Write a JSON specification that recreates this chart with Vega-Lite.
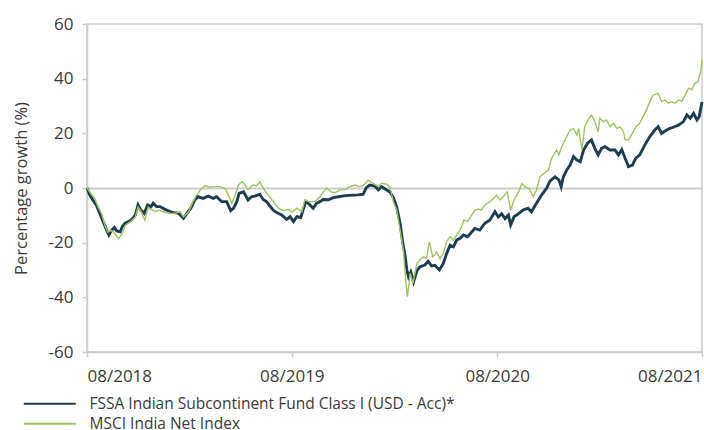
{
  "$schema": "https://vega.github.io/schema/vega-lite/v6.json",
  "width": 615,
  "height": 328,
  "autosize": {"type": "none"},
  "padding": {"left": 87, "top": 24, "right": 2, "bottom": 78},
  "background": "white",
  "config": {
    "font": "Open Sans",
    "view": {"stroke": "#cccccc", "strokeWidth": 1.5},
    "axis": {
      "labelFont": "Open Sans", "labelColor": "#3a3a3a", "labelFontSize": 17,
      "titleFont": "Open Sans", "titleColor": "#3a3a3a", "titleFontWeight": "normal", "titleFontSize": 16.5,
      "domainColor": "#cccccc", "domainWidth": 1.5, "tickColor": "#cccccc", "tickWidth": 1.5, "tickSize": 5
    },
    "legend": {
      "labelFont": "Open Sans", "labelColor": "#3a3a3a", "labelFontSize": 15.5
    }
  },
  "datasets": {
    "fund": [
      {"date": "2018-08-31", "value": 0}, {"date": "2018-09-05", "value": -2.6}, {"date": "2018-09-11", "value": -4.6},
      {"date": "2018-09-17", "value": -6.4}, {"date": "2018-09-23", "value": -9.4}, {"date": "2018-09-29", "value": -12.4},
      {"date": "2018-10-05", "value": -15.4}, {"date": "2018-10-09", "value": -17.2}, {"date": "2018-10-14", "value": -15.4},
      {"date": "2018-10-19", "value": -14.4}, {"date": "2018-10-23", "value": -15.7}, {"date": "2018-10-29", "value": -16},
      {"date": "2018-11-02", "value": -14.1}, {"date": "2018-11-07", "value": -12.9}, {"date": "2018-11-13", "value": -12.3},
      {"date": "2018-11-19", "value": -11.5}, {"date": "2018-11-25", "value": -9.9}, {"date": "2018-11-30", "value": -6.2},
      {"date": "2018-12-05", "value": -8.1}, {"date": "2018-12-11", "value": -9.3}, {"date": "2018-12-17", "value": -6.2},
      {"date": "2018-12-23", "value": -6.8}, {"date": "2018-12-27", "value": -5.6}, {"date": "2019-01-02", "value": -6.8},
      {"date": "2019-01-08", "value": -6.8}, {"date": "2019-01-17", "value": -7.8}, {"date": "2019-01-26", "value": -8.6},
      {"date": "2019-02-01", "value": -9.0}, {"date": "2019-02-10", "value": -9.2}, {"date": "2019-02-19", "value": -11.1},
      {"date": "2019-02-25", "value": -9.3}, {"date": "2019-03-04", "value": -7.4}, {"date": "2019-03-11", "value": -4.4},
      {"date": "2019-03-17", "value": -3.2}, {"date": "2019-03-26", "value": -3.8}, {"date": "2019-04-04", "value": -3.0},
      {"date": "2019-04-13", "value": -3.8}, {"date": "2019-04-19", "value": -3.2}, {"date": "2019-04-28", "value": -5.0},
      {"date": "2019-05-07", "value": -5.0}, {"date": "2019-05-14", "value": -8.3}, {"date": "2019-05-19", "value": -7.4},
      {"date": "2019-05-25", "value": -5.0}, {"date": "2019-05-29", "value": -2.0}, {"date": "2019-06-06", "value": -1.4},
      {"date": "2019-06-14", "value": -4.4}, {"date": "2019-06-20", "value": -3.2}, {"date": "2019-06-26", "value": -3.0},
      {"date": "2019-07-05", "value": -2.3}, {"date": "2019-07-11", "value": -4.2}, {"date": "2019-07-17", "value": -5.0},
      {"date": "2019-07-23", "value": -6.6}, {"date": "2019-07-29", "value": -8.1}, {"date": "2019-08-04", "value": -9.0},
      {"date": "2019-08-13", "value": -9.9}, {"date": "2019-08-22", "value": -11.5}, {"date": "2019-08-28", "value": -10.5},
      {"date": "2019-09-03", "value": -12.3}, {"date": "2019-09-09", "value": -10.5}, {"date": "2019-09-16", "value": -10.8},
      {"date": "2019-09-20", "value": -8.1}, {"date": "2019-09-25", "value": -5.0}, {"date": "2019-10-01", "value": -5.9},
      {"date": "2019-10-08", "value": -7.4}, {"date": "2019-10-14", "value": -5.6}, {"date": "2019-10-20", "value": -5.0},
      {"date": "2019-10-26", "value": -4.2}, {"date": "2019-11-04", "value": -4.3}, {"date": "2019-11-13", "value": -3.5},
      {"date": "2019-11-22", "value": -3.2}, {"date": "2019-12-01", "value": -2.9}, {"date": "2019-12-10", "value": -2.7},
      {"date": "2019-12-19", "value": -2.6}, {"date": "2019-12-27", "value": -2.5}, {"date": "2020-01-05", "value": -2.3},
      {"date": "2020-01-11", "value": 0.2}, {"date": "2020-01-17", "value": 1.1}, {"date": "2020-01-26", "value": 0.7},
      {"date": "2020-02-01", "value": -0.7}, {"date": "2020-02-07", "value": 0.5}, {"date": "2020-02-16", "value": -0.7},
      {"date": "2020-02-22", "value": -1.5}, {"date": "2020-02-28", "value": -3.5}, {"date": "2020-03-05", "value": -7.0},
      {"date": "2020-03-11", "value": -13.0}, {"date": "2020-03-15", "value": -19}, {"date": "2020-03-20", "value": -25},
      {"date": "2020-03-23", "value": -30}, {"date": "2020-03-26", "value": -32.5}, {"date": "2020-03-30", "value": -30.7},
      {"date": "2020-04-04", "value": -34.3}, {"date": "2020-04-10", "value": -30.2}, {"date": "2020-04-15", "value": -28.9},
      {"date": "2020-04-24", "value": -28.2}, {"date": "2020-04-30", "value": -26.8}, {"date": "2020-05-06", "value": -28.5},
      {"date": "2020-05-12", "value": -28.3}, {"date": "2020-05-20", "value": -30}, {"date": "2020-05-27", "value": -27.6},
      {"date": "2020-06-02", "value": -23.9}, {"date": "2020-06-08", "value": -20.9}, {"date": "2020-06-14", "value": -21.5},
      {"date": "2020-06-20", "value": -19}, {"date": "2020-06-26", "value": -18.4}, {"date": "2020-07-02", "value": -17.2},
      {"date": "2020-07-09", "value": -17.8}, {"date": "2020-07-17", "value": -16}, {"date": "2020-07-22", "value": -14.8},
      {"date": "2020-07-31", "value": -15.4}, {"date": "2020-08-09", "value": -12.9}, {"date": "2020-08-18", "value": -11.7},
      {"date": "2020-08-27", "value": -8.7}, {"date": "2020-09-02", "value": -10.6}, {"date": "2020-09-08", "value": -9.4},
      {"date": "2020-09-14", "value": -11.2}, {"date": "2020-09-20", "value": -9.9}, {"date": "2020-09-24", "value": -13.5},
      {"date": "2020-09-30", "value": -10.5}, {"date": "2020-10-08", "value": -9.4}, {"date": "2020-10-16", "value": -8.1},
      {"date": "2020-10-25", "value": -7.4}, {"date": "2020-10-31", "value": -8.7}, {"date": "2020-11-09", "value": -5.6},
      {"date": "2020-11-18", "value": -2.6}, {"date": "2020-11-27", "value": -0.1}, {"date": "2020-12-03", "value": 2.5},
      {"date": "2020-12-12", "value": 4.1}, {"date": "2020-12-19", "value": 3.0}, {"date": "2020-12-23", "value": 0.5},
      {"date": "2020-12-27", "value": 4.1}, {"date": "2021-01-02", "value": 6.6}, {"date": "2021-01-08", "value": 8.4},
      {"date": "2021-01-14", "value": 11.5}, {"date": "2021-01-20", "value": 10.2}, {"date": "2021-01-26", "value": 9.6},
      {"date": "2021-02-01", "value": 13.9}, {"date": "2021-02-08", "value": 16.4}, {"date": "2021-02-15", "value": 17.6},
      {"date": "2021-02-21", "value": 14.5}, {"date": "2021-02-27", "value": 12.1}, {"date": "2021-03-05", "value": 14.5},
      {"date": "2021-03-11", "value": 15.1}, {"date": "2021-03-20", "value": 13.9}, {"date": "2021-03-29", "value": 13.9},
      {"date": "2021-04-04", "value": 12.1}, {"date": "2021-04-10", "value": 14.0}, {"date": "2021-04-16", "value": 10.9},
      {"date": "2021-04-22", "value": 7.8}, {"date": "2021-04-29", "value": 8.4}, {"date": "2021-05-05", "value": 10.9},
      {"date": "2021-05-12", "value": 12.1}, {"date": "2021-05-21", "value": 15.7}, {"date": "2021-05-30", "value": 18.8},
      {"date": "2021-06-08", "value": 21.2}, {"date": "2021-06-14", "value": 22.4}, {"date": "2021-06-20", "value": 20},
      {"date": "2021-06-29", "value": 21.2}, {"date": "2021-07-05", "value": 21.8}, {"date": "2021-07-13", "value": 22.4},
      {"date": "2021-07-20", "value": 23}, {"date": "2021-07-29", "value": 24.3}, {"date": "2021-08-04", "value": 26.7},
      {"date": "2021-08-10", "value": 25.5}, {"date": "2021-08-16", "value": 27.3}, {"date": "2021-08-22", "value": 24.9},
      {"date": "2021-08-26", "value": 26.1}, {"date": "2021-08-31", "value": 31.5}
    ],
    "msci": [
      {"date": "2018-08-31", "value": 0}, {"date": "2018-09-08", "value": -2.4}, {"date": "2018-09-14", "value": -3.9},
      {"date": "2018-09-20", "value": -7}, {"date": "2018-09-26", "value": -9.4}, {"date": "2018-10-02", "value": -13.7},
      {"date": "2018-10-07", "value": -16.2}, {"date": "2018-10-13", "value": -15.5}, {"date": "2018-10-19", "value": -16.5},
      {"date": "2018-10-26", "value": -18.6}, {"date": "2018-11-01", "value": -16.8}, {"date": "2018-11-07", "value": -13.7},
      {"date": "2018-11-16", "value": -12.4}, {"date": "2018-11-25", "value": -10.6}, {"date": "2018-11-30", "value": -7},
      {"date": "2018-12-06", "value": -8.7}, {"date": "2018-12-12", "value": -11.8}, {"date": "2018-12-18", "value": -7},
      {"date": "2018-12-24", "value": -7.9}, {"date": "2018-12-30", "value": -8.7}, {"date": "2019-01-05", "value": -8.1},
      {"date": "2019-01-14", "value": -8.7}, {"date": "2019-01-23", "value": -9.3}, {"date": "2019-02-04", "value": -9.3},
      {"date": "2019-02-13", "value": -8.7}, {"date": "2019-02-19", "value": -10.6}, {"date": "2019-02-28", "value": -8.7},
      {"date": "2019-03-08", "value": -5}, {"date": "2019-03-14", "value": -2.6}, {"date": "2019-03-20", "value": -1},
      {"date": "2019-03-29", "value": 0.9}, {"date": "2019-04-07", "value": 0.3}, {"date": "2019-04-16", "value": 0.5},
      {"date": "2019-04-25", "value": 0.5}, {"date": "2019-05-04", "value": -0.1}, {"date": "2019-05-10", "value": -2.6},
      {"date": "2019-05-16", "value": -5.6}, {"date": "2019-05-22", "value": -2.6}, {"date": "2019-05-28", "value": 1.1},
      {"date": "2019-06-03", "value": 2.3}, {"date": "2019-06-09", "value": 1.1}, {"date": "2019-06-14", "value": -0.5},
      {"date": "2019-06-23", "value": 1.1}, {"date": "2019-06-29", "value": 0.8}, {"date": "2019-07-05", "value": 2.3},
      {"date": "2019-07-11", "value": -0.1}, {"date": "2019-07-20", "value": -2.6}, {"date": "2019-07-29", "value": -5},
      {"date": "2019-08-07", "value": -7.4}, {"date": "2019-08-16", "value": -8.3}, {"date": "2019-08-25", "value": -7.8},
      {"date": "2019-09-01", "value": -8.7}, {"date": "2019-09-09", "value": -7.4}, {"date": "2019-09-18", "value": -8.7},
      {"date": "2019-09-23", "value": -4.4}, {"date": "2019-10-01", "value": -5}, {"date": "2019-10-11", "value": -5},
      {"date": "2019-10-20", "value": -3.2}, {"date": "2019-10-26", "value": -1.4}, {"date": "2019-11-01", "value": -0.1},
      {"date": "2019-11-09", "value": -1.4}, {"date": "2019-11-16", "value": -1.7}, {"date": "2019-11-25", "value": -0.7},
      {"date": "2019-12-04", "value": -0.5}, {"date": "2019-12-13", "value": 0.5}, {"date": "2019-12-22", "value": 1.1},
      {"date": "2019-12-30", "value": 0.5}, {"date": "2020-01-05", "value": 0.8}, {"date": "2020-01-14", "value": 2.9},
      {"date": "2020-01-23", "value": 1.7}, {"date": "2020-02-01", "value": 0.5}, {"date": "2020-02-07", "value": 1.7},
      {"date": "2020-02-16", "value": 1.4}, {"date": "2020-02-22", "value": 0.2}, {"date": "2020-02-28", "value": -5},
      {"date": "2020-03-05", "value": -8.1}, {"date": "2020-03-11", "value": -15.4}, {"date": "2020-03-17", "value": -23},
      {"date": "2020-03-21", "value": -33.7}, {"date": "2020-03-24", "value": -39.8}, {"date": "2020-03-29", "value": -31.2},
      {"date": "2020-04-03", "value": -34.9}, {"date": "2020-04-10", "value": -27.6}, {"date": "2020-04-15", "value": -26.4},
      {"date": "2020-04-21", "value": -25.2}, {"date": "2020-04-27", "value": -25.8}, {"date": "2020-05-02", "value": -19.6},
      {"date": "2020-05-08", "value": -25.2}, {"date": "2020-05-15", "value": -23.4}, {"date": "2020-05-21", "value": -25.8},
      {"date": "2020-05-27", "value": -24}, {"date": "2020-06-02", "value": -19.6}, {"date": "2020-06-08", "value": -17.8},
      {"date": "2020-06-14", "value": -19}, {"date": "2020-06-20", "value": -17.2}, {"date": "2020-06-26", "value": -15.4},
      {"date": "2020-07-03", "value": -11.7}, {"date": "2020-07-09", "value": -12.3}, {"date": "2020-07-15", "value": -10.5},
      {"date": "2020-07-22", "value": -8.1}, {"date": "2020-07-28", "value": -7.8}, {"date": "2020-08-03", "value": -8.0},
      {"date": "2020-08-09", "value": -6.2}, {"date": "2020-08-18", "value": -5}, {"date": "2020-08-25", "value": -3.8},
      {"date": "2020-08-30", "value": -2.6}, {"date": "2020-09-05", "value": -4.4}, {"date": "2020-09-11", "value": -3.2},
      {"date": "2020-09-18", "value": -1.4}, {"date": "2020-09-24", "value": -8.1}, {"date": "2020-09-30", "value": -4.4},
      {"date": "2020-10-08", "value": -1.4}, {"date": "2020-10-14", "value": 1.6}, {"date": "2020-10-20", "value": 0.4},
      {"date": "2020-10-27", "value": -0.2}, {"date": "2020-11-03", "value": -3.2}, {"date": "2020-11-09", "value": -0.8},
      {"date": "2020-11-15", "value": 4.1}, {"date": "2020-11-24", "value": 5.6}, {"date": "2020-11-30", "value": 6.5},
      {"date": "2020-12-06", "value": 10.9}, {"date": "2020-12-15", "value": 13.9}, {"date": "2020-12-19", "value": 12.1},
      {"date": "2020-12-24", "value": 15.1}, {"date": "2020-12-30", "value": 17.6}, {"date": "2021-01-08", "value": 21.2},
      {"date": "2021-01-14", "value": 21.8}, {"date": "2021-01-20", "value": 19.4}, {"date": "2021-01-23", "value": 21.8},
      {"date": "2021-01-29", "value": 13.9}, {"date": "2021-02-03", "value": 22.4}, {"date": "2021-02-09", "value": 24.9},
      {"date": "2021-02-15", "value": 26.7}, {"date": "2021-02-21", "value": 24.3}, {"date": "2021-02-27", "value": 20.6},
      {"date": "2021-03-02", "value": 25.5}, {"date": "2021-03-08", "value": 24.3}, {"date": "2021-03-14", "value": 24.9},
      {"date": "2021-03-20", "value": 22.4}, {"date": "2021-03-26", "value": 23.7}, {"date": "2021-04-01", "value": 21.8},
      {"date": "2021-04-07", "value": 22.4}, {"date": "2021-04-13", "value": 20.6}, {"date": "2021-04-16", "value": 17.6},
      {"date": "2021-04-22", "value": 17.6}, {"date": "2021-04-29", "value": 20}, {"date": "2021-05-05", "value": 22.4},
      {"date": "2021-05-12", "value": 23.7}, {"date": "2021-05-18", "value": 26.1}, {"date": "2021-05-24", "value": 28.5},
      {"date": "2021-05-30", "value": 31.6}, {"date": "2021-06-05", "value": 34}, {"date": "2021-06-14", "value": 34.6},
      {"date": "2021-06-20", "value": 31.6}, {"date": "2021-06-26", "value": 32.2}, {"date": "2021-07-02", "value": 31},
      {"date": "2021-07-08", "value": 31.6}, {"date": "2021-07-14", "value": 31}, {"date": "2021-07-20", "value": 32.2},
      {"date": "2021-07-26", "value": 31.6}, {"date": "2021-08-01", "value": 34}, {"date": "2021-08-07", "value": 36.5},
      {"date": "2021-08-13", "value": 35.9}, {"date": "2021-08-18", "value": 38.3}, {"date": "2021-08-24", "value": 38.9},
      {"date": "2021-08-29", "value": 43.2}, {"date": "2021-08-31", "value": 46.8}
    ]
  },
  "encoding": {
    "x": {
      "field": "date", "type": "temporal",
      "scale": {"type": "utc", "domain": [{"year": 2018, "month": 8, "date": 31, "utc": true}, {"year": 2021, "month": 8, "date": 31, "utc": true}]},
      "axis": {
        "title": null, "format": "%m/%Y", "grid": false, "labelFlush": true, "labelOverlap": false, "labelPadding": 11,
        "values": [
          {"year": 2018, "month": 8, "date": 31, "utc": true},
          {"year": 2019, "month": 8, "date": 31, "utc": true},
          {"year": 2020, "month": 8, "date": 31, "utc": true},
          {"year": 2021, "month": 8, "date": 31, "utc": true}
        ]
      }
    },
    "y": {
      "field": "value", "type": "quantitative",
      "scale": {"domain": [-60, 60], "nice": false},
      "axis": {
        "title": "Percentage growth (%)", "values": [-60, -40, -20, 0, 20, 40, 60], "labelPadding": 9, "titlePadding": 19,
        "labelExpr": "'' + datum.value",
        "grid": true, "gridColor": "#cccccc", "gridWidth": 2,
        "gridOpacity": {"condition": {"test": "datum.value === 0", "value": 1}, "value": 0}
      }
    }
  },
  "layer": [
    {
      "data": {"name": "fund"},
      "mark": {"type": "line", "strokeWidth": 2.9, "interpolate": "linear"},
      "encoding": {
        "color": {
          "datum": "Fund",
          "scale": {"domain": ["Fund", "Index"], "range": ["#1c3d52", "#9dc45f"]},
          "legend": {
            "orient": "none", "legendX": -45, "legendY": 372, "direction": "vertical", "title": null,
            "symbolType": "M-26,0H26", "symbolSize": 4, "symbolStrokeWidth": 2, "labelOffset": 32, "rowPadding": 3,
            "labelLimit": 0, "padding": 0,
            "labelExpr": "datum.label === 'Fund' ? 'FSSA Indian Subcontinent Fund Class I (USD - Acc)*' : 'MSCI India Net Index'"
          }
        }
      }
    },
    {
      "data": {"name": "msci"},
      "mark": {"type": "line", "strokeWidth": 1.4, "interpolate": "linear"},
      "encoding": {"color": {"datum": "Index"}}
    }
  ]
}
